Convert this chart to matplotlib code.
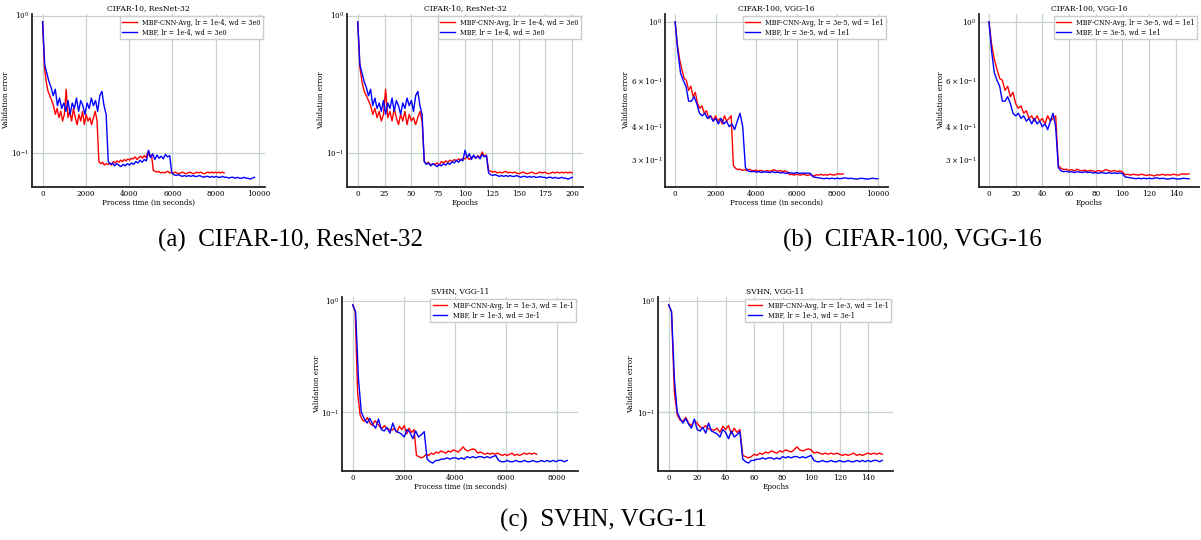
import numpy as np
import matplotlib
matplotlib.use("Agg")
import matplotlib.pyplot as plt

# ---- data (validation error per 2 epochs) ----
c10_red = [
    0.90, 0.42, 0.33, 0.28, 0.26, 0.24, 0.22, 0.19, 0.21, 0.18,
    0.20, 0.17, 0.19, 0.29, 0.18, 0.20, 0.17, 0.21, 0.18, 0.16,
    0.19, 0.17, 0.20, 0.16, 0.19, 0.17, 0.18, 0.16, 0.18, 0.20,
    0.17, 0.086, 0.083, 0.085, 0.081, 0.083, 0.082, 0.084, 0.081, 0.086,
    0.084, 0.087, 0.085, 0.088, 0.086, 0.089, 0.087, 0.090, 0.088, 0.091,
    0.090, 0.093, 0.089, 0.092, 0.094, 0.091, 0.095, 0.092, 0.101, 0.094,
    0.096, 0.074, 0.073, 0.072, 0.073, 0.071, 0.072, 0.071, 0.072, 0.073,
    0.071, 0.072, 0.071, 0.072, 0.071, 0.070, 0.071, 0.072, 0.071, 0.070,
    0.071, 0.072, 0.071, 0.070, 0.071, 0.072, 0.071, 0.072, 0.071, 0.070,
    0.071, 0.072, 0.071, 0.072, 0.071, 0.072, 0.071, 0.072, 0.071, 0.072,
    0.071,
]
c10_blue = [
    0.90, 0.44, 0.38, 0.33, 0.30, 0.26, 0.29, 0.22, 0.25, 0.21,
    0.23, 0.20, 0.24, 0.19, 0.23, 0.21, 0.25, 0.20, 0.24, 0.22,
    0.19, 0.23, 0.21, 0.25, 0.22, 0.24, 0.20, 0.26, 0.28, 0.22,
    0.19, 0.086, 0.082, 0.084, 0.080, 0.083, 0.081, 0.079, 0.082, 0.080,
    0.083, 0.081, 0.084, 0.082, 0.086, 0.084, 0.088, 0.085, 0.089, 0.087,
    0.104, 0.092, 0.098, 0.089, 0.096, 0.091, 0.094, 0.090, 0.097, 0.093,
    0.095, 0.071, 0.069, 0.068, 0.069, 0.068, 0.067, 0.068, 0.067, 0.068,
    0.067, 0.068, 0.067, 0.067, 0.068, 0.067, 0.066, 0.067, 0.067, 0.066,
    0.067, 0.066, 0.067, 0.066, 0.066, 0.067, 0.066, 0.066, 0.065, 0.066,
    0.066, 0.065, 0.066, 0.065, 0.065, 0.066, 0.065, 0.065, 0.064, 0.065,
    0.066,
]
c100_red = [
    1.00, 0.82, 0.72, 0.66, 0.61, 0.60, 0.55, 0.57, 0.52, 0.54,
    0.49, 0.47, 0.48, 0.45, 0.46, 0.43, 0.44, 0.42, 0.44, 0.42,
    0.43, 0.41, 0.44, 0.42, 0.43, 0.44, 0.285, 0.278, 0.275, 0.276,
    0.273, 0.275, 0.272, 0.276, 0.273, 0.272, 0.274, 0.271, 0.273, 0.272,
    0.270, 0.273, 0.271, 0.272, 0.275, 0.272, 0.271, 0.273, 0.270, 0.272,
    0.270, 0.263, 0.264, 0.262, 0.264, 0.263, 0.262, 0.264, 0.263, 0.261,
    0.263, 0.262, 0.260, 0.263, 0.262, 0.264, 0.262, 0.263, 0.262, 0.264,
    0.263, 0.262, 0.264, 0.265, 0.264, 0.265,
]
c100_blue = [
    1.00, 0.77, 0.64, 0.60, 0.57, 0.50, 0.50, 0.52, 0.49, 0.45,
    0.44, 0.45, 0.43, 0.44, 0.42, 0.43, 0.41, 0.43, 0.41, 0.42,
    0.40, 0.41, 0.39, 0.42, 0.45, 0.40, 0.280, 0.272, 0.270, 0.271,
    0.269, 0.270, 0.268, 0.270, 0.269, 0.268, 0.270, 0.268, 0.269, 0.267,
    0.268, 0.266, 0.268, 0.267, 0.266, 0.268, 0.266, 0.267, 0.266, 0.267,
    0.266, 0.258, 0.257, 0.256, 0.255, 0.254, 0.255, 0.254, 0.255, 0.254,
    0.255, 0.254, 0.255, 0.256, 0.254, 0.255, 0.254, 0.253, 0.254, 0.255,
    0.254, 0.253, 0.254, 0.255, 0.254, 0.254,
]
svhn_red = [
    0.92, 0.80, 0.15, 0.095, 0.085, 0.083, 0.090, 0.080, 0.076, 0.084,
    0.080, 0.074, 0.072, 0.076, 0.071, 0.070, 0.069, 0.072, 0.066, 0.075,
    0.070, 0.076, 0.064, 0.072, 0.066, 0.070, 0.041, 0.040, 0.039, 0.040,
    0.042, 0.041, 0.043, 0.042, 0.044, 0.043, 0.045, 0.044, 0.043, 0.045,
    0.044, 0.046, 0.045, 0.044, 0.046, 0.049, 0.046, 0.045, 0.046, 0.047,
    0.046, 0.043, 0.044, 0.043, 0.042, 0.043, 0.042, 0.043, 0.042, 0.043,
    0.042, 0.041, 0.042, 0.041, 0.042, 0.043, 0.041, 0.042, 0.041, 0.042,
    0.043, 0.042, 0.043, 0.042, 0.043, 0.042,
]
svhn_blue = [
    0.92, 0.80, 0.20, 0.100, 0.088, 0.080, 0.088, 0.078, 0.072, 0.087,
    0.070, 0.068, 0.073, 0.065, 0.080, 0.068, 0.066, 0.064, 0.060, 0.070,
    0.066, 0.058, 0.068, 0.060, 0.063, 0.067, 0.038, 0.036, 0.035, 0.037,
    0.037, 0.038, 0.038, 0.039, 0.038, 0.039, 0.039, 0.038, 0.039, 0.038,
    0.040, 0.039, 0.040, 0.039, 0.040, 0.040, 0.039, 0.040, 0.039, 0.040,
    0.041, 0.037, 0.036, 0.036, 0.037, 0.036, 0.036, 0.037, 0.036, 0.036,
    0.037, 0.036, 0.036, 0.037, 0.036, 0.036, 0.037, 0.036, 0.037, 0.036,
    0.037, 0.036, 0.037, 0.037, 0.036, 0.037,
]

c10_spe = (42, 49)
c100_spe = (55.3, 66.7)
svhn_spe = (48, 56)

c10_labels = ("MBF-CNN-Avg, lr = 1e-4, wd = 3e0", "MBF, lr = 1e-4, wd = 3e0")
c100_labels = ("MBF-CNN-Avg, lr = 3e-5, wd = 1e1", "MBF, lr = 3e-5, wd = 1e1")
svhn_labels = ("MBF-CNN-Avg, lr = 1e-3, wd = 1e-1", "MBF, lr = 1e-3, wd = 3e-1")

plt.rcParams["font.family"] = "DejaVu Serif"
plt.rcParams["font.size"] = 5.2

W, H = 1201, 540


def add_axes(fig, left, right, top, bottom):
    ax = fig.add_axes([left / W, 1 - bottom / H, (right - left) / W, (bottom - top) / H])
    ax._px = (left, right)
    return ax


def draw(ax, red, blue, labels, title, xlabel, ylabel_x, spe=None):
    ep_r = np.arange(len(red)) * 2
    ep_b = np.arange(len(blue)) * 2
    if spe is not None:
        ep_r = ep_r * spe[0]
        ep_b = ep_b * spe[1]
    ax.plot(ep_r, red, color="red", lw=1.0, label=labels[0])
    ax.plot(ep_b, blue, color="blue", lw=1.0, label=labels[1])
    ax.set_yscale("log")
    ax.set_title(title, fontsize=5.5, pad=3)
    ax.set_xlabel(xlabel, fontsize=5.2, labelpad=1)
    ax.set_ylabel("Validation error", fontsize=5.2)
    left, right = ax._px
    ax.yaxis.set_label_coords((ylabel_x - left) / (right - left), 0.5)
    ax.grid(True, which="major", color="#c8d0d0", lw=0.9)
    ax.set_axisbelow(True)
    for s in ("top", "right"):
        ax.spines[s].set_visible(False)
    for s in ("left", "bottom"):
        ax.spines[s].set_color("#222222")
        ax.spines[s].set_linewidth(1.3)
    ax.tick_params(which="both", length=0, labelsize=5.2, pad=2)
    ax.legend(loc="upper right", fontsize=4.7, frameon=True, fancybox=False,
              edgecolor="#cccccc", framealpha=1, borderaxespad=0.3,
              handlelength=2.2, labelspacing=0.25)


fig = plt.figure(figsize=(W / 100, H / 100), dpi=100)

ax1 = add_axes(fig, 32, 265, 14, 187)
draw(ax1, c10_red, c10_blue, c10_labels, "CIFAR-10, ResNet-32", "Process time (in seconds)", 10, c10_spe)
ax2 = add_axes(fig, 347, 583, 14, 187)
draw(ax2, c10_red, c10_blue, c10_labels, "CIFAR-10, ResNet-32", "Epochs", 325)
ax3 = add_axes(fig, 665, 888, 14, 187)
draw(ax3, c100_red, c100_blue, c100_labels, "CIFAR-100, VGG-16", "Process time (in seconds)", 630, c100_spe)
ax4 = add_axes(fig, 979, 1199, 14, 187)
draw(ax4, c100_red, c100_blue, c100_labels, "CIFAR-100, VGG-16", "Epochs", 945)
ax5 = add_axes(fig, 342, 578, 297, 471)
draw(ax5, svhn_red, svhn_blue, svhn_labels, "SVHN, VGG-11", "Process time (in seconds)", 321, svhn_spe)
ax6 = add_axes(fig, 658, 893, 297, 471)
draw(ax6, svhn_red, svhn_blue, svhn_labels, "SVHN, VGG-11", "Epochs", 635)

cap = dict(fontsize=18, family="Liberation Serif", ha="center", va="center")
fig.text(290 / W, 1 - 240 / H, "(a)  CIFAR-10, ResNet-32", **cap)
fig.text(912 / W, 1 - 240 / H, "(b)  CIFAR-100, VGG-16", **cap)
fig.text(603 / W, 1 - 520 / H, "(c)  SVHN, VGG-11", **cap)

fig.savefig("out.png", dpi=100)
